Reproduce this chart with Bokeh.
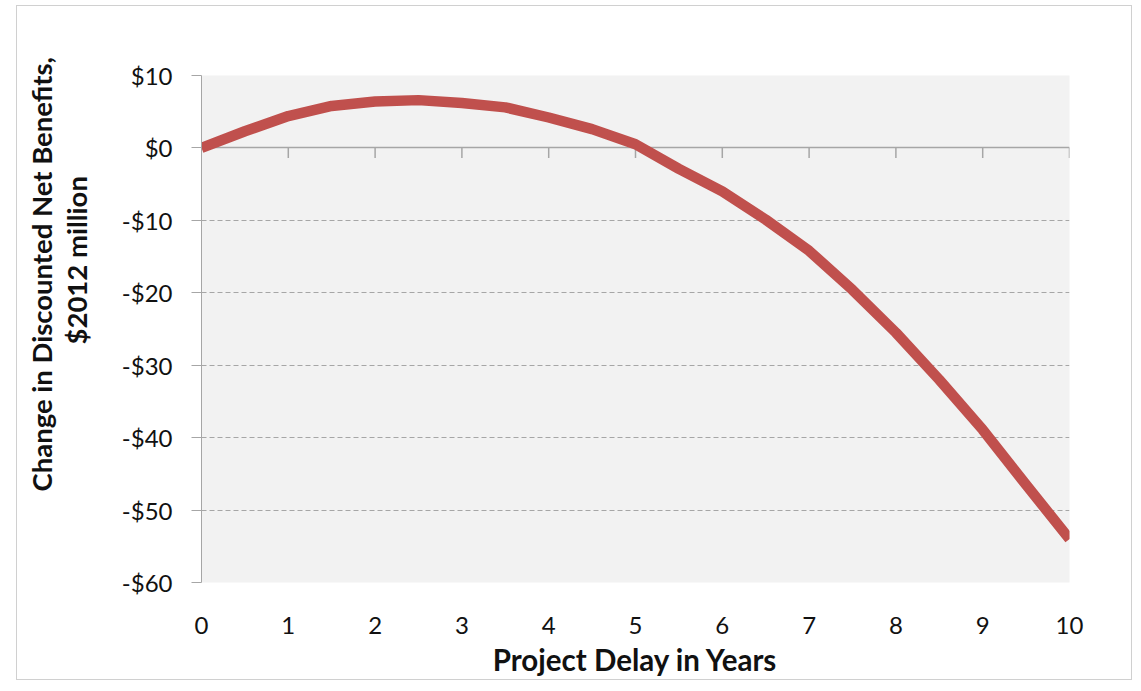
from bokeh.plotting import figure
from bokeh.models import Range1d, FixedTicker, Title
from bokeh.embed import file_html
from bokeh.resources import INLINE

# ---- data ----
delay_years = [0, 0.5, 1, 1.5, 2, 2.5, 3, 3.5, 4, 4.5, 5,
               5.5, 6, 6.5, 7, 7.5, 8, 8.5, 9, 9.5, 10]
net_benefit_change = [0.0, 2.3, 4.4, 5.8, 6.4, 6.6, 6.2, 5.6, 4.2, 2.6, 0.5,
                      -2.9, -6.0, -9.9, -14.2, -19.6, -25.5, -32.0, -38.9, -46.5, -54.0]

x_ticks = [0, 1, 2, 3, 4, 5, 6, 7, 8, 9, 10]
x_tick_labels = ["0", "1", "2", "3", "4", "5", "6", "7", "8", "9", "10"]
x_axis_marks = [1, 2, 3, 4, 5, 6, 7, 8, 9, 10]
y_ticks = [10, 0, -10, -20, -30, -40, -50, -60]
y_tick_labels = ["$10", "$0", "-$10", "-$20", "-$30", "-$40", "-$50", "-$60"]
y_title_lines = ["Change in Discounted Net Benefits,", "$2012 million"]

FONT = "Lato"
GRAY = "#a6a6a6"
TXT = "#111111"

FRAME_W, FRAME_H = 868, 507
p = figure(frame_width=FRAME_W, frame_height=FRAME_H,
           min_border_left=184, min_border_top=69, min_border_right=62, min_border_bottom=95,
           margin=(5, 0, 0, 16),
           x_range=Range1d(0, 10), y_range=Range1d(-60, 10),
           output_backend="svg", toolbar_location=None)
p.styles = {"border": "1px solid #d0d0d0"}

p.background_fill_color = "#f2f2f2"
p.border_fill_color = "white"
p.outline_line_color = None

# grid
p.xgrid.grid_line_color = None
p.ygrid.ticker = FixedTicker(ticks=y_ticks)
p.ygrid.grid_line_color = GRAY
p.ygrid.grid_line_dash = "5 3"
p.ygrid.grid_line_width = 1

# y axis
p.yaxis.ticker = FixedTicker(ticks=y_ticks)
p.yaxis.major_label_overrides = {t: l for t, l in zip(y_ticks, y_tick_labels)}
p.yaxis.axis_line_color = GRAY
p.yaxis.major_tick_line_color = GRAY
p.yaxis.major_tick_out = 10
p.yaxis.major_tick_in = 0
p.yaxis.minor_tick_line_color = None
p.yaxis.major_label_standoff = 19
p.yaxis.major_label_text_font = FONT
p.yaxis.major_label_text_font_size = "24px"
p.yaxis.major_label_text_color = TXT
# blank spacer label between tick labels and the two-line title
p.yaxis.axis_label = "\u00a0"
p.yaxis.axis_label_text_font_size = "10px"
p.yaxis.axis_label_standoff = 12

# x axis (labels only, axis line drawn at y=0)
p.xaxis.ticker = FixedTicker(ticks=x_ticks)
p.xaxis.major_label_overrides = {t: l for t, l in zip(x_ticks, x_tick_labels)}
p.xaxis.axis_line_color = None
p.xaxis.major_tick_line_color = None
p.xaxis.minor_tick_line_color = None
p.xaxis.major_label_standoff = 28
p.xaxis.major_label_text_font = FONT
p.xaxis.major_label_text_font_size = "24px"
p.xaxis.major_label_text_color = TXT
p.xaxis.axis_label = "Project Delay in Years"
p.xaxis.axis_label_text_font = FONT
p.xaxis.axis_label_text_font_style = "bold"
p.xaxis.axis_label_text_font_size = "29.5px"
p.xaxis.axis_label_text_color = TXT
p.xaxis.axis_label_standoff = 5

# zero axis line and its tick marks
px_per_unit = FRAME_H / 70.0
tick_len = 10 / px_per_unit
p.hspan(y=[0], line_color=GRAY, line_width=1.5)
p.segment(x0=x_axis_marks, y0=[0] * len(x_axis_marks),
          x1=x_axis_marks, y1=[-tick_len] * len(x_axis_marks),
          line_color=GRAY, line_width=1.5)

# curve
p.line(delay_years, net_benefit_change, line_color="#c0504d", line_width=10.5,
       line_join="round", line_cap="butt")

# y axis title: two stacked left titles (inner line added first),
# each anchored at its start measured up from the frame bottom
inner = Title(text=y_title_lines[1], align="left", offset=238, standoff=0,
              text_font=FONT, text_font_style="bold", text_font_size="27.5px",
              text_color=TXT)
outer = Title(text=y_title_lines[0], align="left", offset=91, standoff=0,
              text_font=FONT, text_font_style="bold", text_font_size="27.5px",
              text_color=TXT)
p.add_layout(inner, "left")
p.add_layout(outer, "left")

open("out.html", "w").write(file_html(p, INLINE))
